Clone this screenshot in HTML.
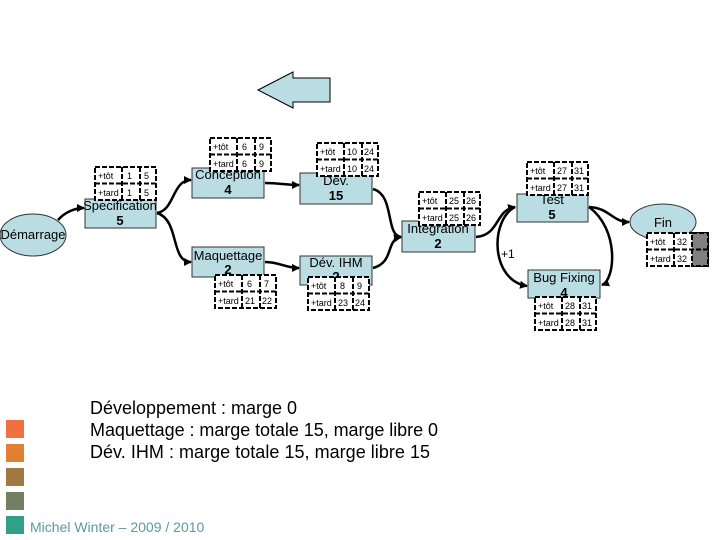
<!DOCTYPE html>
<html><head><meta charset="utf-8"><style>
body{margin:0;background:#fff}
svg{display:block}
text{font-family:"Liberation Sans",sans-serif}
.g rect,.g line{fill:#fff;stroke:#000;stroke-width:2;stroke-dasharray:5 2}
.g text{font-size:9px}
.b{fill:#b9dde2;stroke:#333;stroke-width:1}
.t{font-size:13px;text-anchor:middle}
.n{font-size:13px;font-weight:bold;text-anchor:middle}
.c{fill:none;stroke:#000;stroke-width:2.5}
</style></head><body>
<svg width="720" height="540" viewBox="0 0 720 540">
<defs><marker id="a" markerWidth="8" markerHeight="8" refX="7" refY="4" orient="auto" markerUnits="userSpaceOnUse"><path d="M0,0 L8,4 L0,8z" fill="#000"/></marker></defs>
<polygon points="258,90 293,72 293,78 330,78 330,102 293,102 293,108" fill="#b9dde2" stroke="#000" stroke-width="1"/>

<path class="c" d="M58,220 C65,212 75,208 84,208" marker-end="url(#a)"/>
<path class="c" d="M157,213 C175,210 172,180 191,180" marker-end="url(#a)"/>
<path class="c" d="M157,213 C180,220 170,262 191,262" marker-end="url(#a)"/>
<path class="c" d="M265,183 C280,183 285,185 299,185" marker-end="url(#a)"/>
<path class="c" d="M265,262 C280,262 285,268 299,268" marker-end="url(#a)"/>
<path class="c" d="M373,189 C395,195 385,235 401,237" marker-end="url(#a)"/>
<path class="c" d="M373,268 C395,262 385,240 401,237" marker-end="url(#a)"/>
<path class="c" d="M476,237 C500,235 495,210 515,207" marker-end="url(#a)"/>
<path class="c" d="M515,207 C490,220 490,280 527,286" marker-end="url(#a)"/>
<path class="c" d="M589,207 C620,230 615,280 602,285" marker-end="url(#a)"/>
<path class="c" d="M589,207 C610,208 612,222 629,222" marker-end="url(#a)"/>
<text x="501" y="258" style="font-size:12px">+1</text>

<ellipse class="b" cx="33" cy="235" rx="33" ry="21"/>
<text class="t" x="33" y="239">Démarrage</text>
<rect class="b" x="85" y="199" width="71" height="29"/>
<text class="t" x="120" y="210">Specification</text><text class="n" x="120" y="225">5</text>
<rect class="b" x="192" y="168" width="72" height="30"/>
<text class="t" x="228" y="179">Conception</text><text class="n" x="228" y="194">4</text>
<rect class="b" x="192" y="247" width="72" height="30"/>
<text class="t" x="228" y="260">Maquettage</text><text class="n" x="228" y="274">2</text>
<rect class="b" x="300" y="173" width="72" height="31"/>
<text class="t" x="336" y="185">Dév.</text><text class="n" x="336" y="200">15</text>
<rect class="b" x="300" y="256" width="72" height="29"/>
<text class="t" x="336" y="267">Dév. IHM</text><text class="n" x="336" y="281">2</text>
<rect class="b" x="402" y="221" width="73" height="31"/>
<text class="t" x="438" y="233">Integration</text><text class="n" x="438" y="248">2</text>
<rect class="b" x="517" y="194" width="71" height="28"/>
<text class="t" x="552" y="204">Test</text><text class="n" x="552" y="219">5</text>
<rect class="b" x="528" y="270" width="72" height="28"/>
<text class="t" x="564" y="282">Bug Fixing</text><text class="n" x="564" y="297">4</text>
<ellipse class="b" cx="663" cy="222" rx="33" ry="18"/>
<text class="t" x="663" y="227">Fin</text>

<g class="g" transform="translate(95,167)"><rect width="61" height="33"/><line x1="0" y1="16.5" x2="61" y2="16.5"/><line x1="27" y1="0" x2="27" y2="33"/><line x1="45" y1="0" x2="45" y2="33"/><text x="3" y="12">+tôt</text><text x="3" y="29">+tard</text><text x="32" y="12">1</text><text x="32" y="29">1</text><text x="49" y="12">5</text><text x="49" y="29">5</text></g>
<g class="g" transform="translate(210,138)"><rect width="61" height="33"/><line x1="0" y1="16.5" x2="61" y2="16.5"/><line x1="27" y1="0" x2="27" y2="33"/><line x1="45" y1="0" x2="45" y2="33"/><text x="3" y="12">+tôt</text><text x="3" y="29">+tard</text><text x="32" y="12">6</text><text x="32" y="29">6</text><text x="49" y="12">9</text><text x="49" y="29">9</text></g>
<g class="g" transform="translate(215,275)"><rect width="61" height="33"/><line x1="0" y1="16.5" x2="61" y2="16.5"/><line x1="27" y1="0" x2="27" y2="33"/><line x1="45" y1="0" x2="45" y2="33"/><text x="3" y="12">+tôt</text><text x="3" y="29">+tard</text><text x="32" y="12">6</text><text x="30" y="29">21</text><text x="49" y="12">7</text><text x="47" y="29">22</text></g>
<g class="g" transform="translate(317,143)"><rect width="61" height="33"/><line x1="0" y1="16.5" x2="61" y2="16.5"/><line x1="27" y1="0" x2="27" y2="33"/><line x1="45" y1="0" x2="45" y2="33"/><text x="3" y="12">+tôt</text><text x="3" y="29">+tard</text><text x="30" y="12">10</text><text x="30" y="29">10</text><text x="47" y="12">24</text><text x="47" y="29">24</text></g>
<g class="g" transform="translate(308,277)"><rect width="61" height="33"/><line x1="0" y1="16.5" x2="61" y2="16.5"/><line x1="27" y1="0" x2="27" y2="33"/><line x1="45" y1="0" x2="45" y2="33"/><text x="3" y="12">+tôt</text><text x="3" y="29">+tard</text><text x="32" y="12">8</text><text x="30" y="29">23</text><text x="49" y="12">9</text><text x="47" y="29">24</text></g>
<g class="g" transform="translate(419,192)"><rect width="61" height="33"/><line x1="0" y1="16.5" x2="61" y2="16.5"/><line x1="27" y1="0" x2="27" y2="33"/><line x1="45" y1="0" x2="45" y2="33"/><text x="3" y="12">+tôt</text><text x="3" y="29">+tard</text><text x="30" y="12">25</text><text x="30" y="29">25</text><text x="47" y="12">26</text><text x="47" y="29">26</text></g>
<g class="g" transform="translate(527,162)"><rect width="61" height="33"/><line x1="0" y1="16.5" x2="61" y2="16.5"/><line x1="27" y1="0" x2="27" y2="33"/><line x1="45" y1="0" x2="45" y2="33"/><text x="3" y="12">+tôt</text><text x="3" y="29">+tard</text><text x="30" y="12">27</text><text x="30" y="29">27</text><text x="47" y="12">31</text><text x="47" y="29">31</text></g>
<g class="g" transform="translate(535,297)"><rect width="61" height="33"/><line x1="0" y1="16.5" x2="61" y2="16.5"/><line x1="27" y1="0" x2="27" y2="33"/><line x1="45" y1="0" x2="45" y2="33"/><text x="3" y="12">+tôt</text><text x="3" y="29">+tard</text><text x="30" y="12">28</text><text x="30" y="29">28</text><text x="47" y="12">31</text><text x="47" y="29">31</text></g>
<g class="g" transform="translate(647,233)"><rect width="61" height="33"/><rect x="45" y="0" width="16" height="33" style="fill:#808080"/><line x1="0" y1="16.5" x2="61" y2="16.5"/><line x1="27" y1="0" x2="27" y2="33"/><text x="3" y="12">+tôt</text><text x="3" y="29">+tard</text><text x="30" y="12">32</text><text x="30" y="29">32</text></g>

<text x="90" y="414" style="font-size:18px" textLength="207">Développement : marge 0</text>
<text x="90" y="436" style="font-size:18px" textLength="348">Maquettage : marge totale 15, marge libre 0</text>
<text x="90" y="458" style="font-size:18px" textLength="340">Dév. IHM : marge totale 15, marge libre 15</text>
<rect x="6" y="420" width="18" height="18" fill="#f07040"/>
<rect x="6" y="444" width="18" height="18" fill="#e08030"/>
<rect x="6" y="468" width="18" height="18" fill="#a07840"/>
<rect x="6" y="492" width="18" height="18" fill="#708060"/>
<rect x="6" y="516" width="18" height="18" fill="#30a088"/>
<text x="30" y="532" style="font-size:14px" fill="#5a9aa0">Michel Winter – 2009 / 2010</text>
</svg>
</body></html>
